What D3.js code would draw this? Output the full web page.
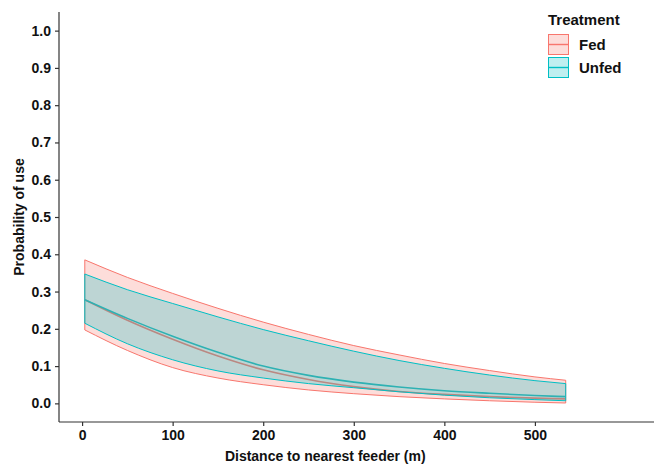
<!DOCTYPE html>
<html>
<head>
<meta charset="utf-8">
<script src="https://cdn.jsdelivr.net/npm/d3@7"></script>
<style>
  body { margin: 0; background: #fff; }
  svg text { font-family: "Liberation Sans", Arial, sans-serif; font-weight: bold; fill: #111; }
</style>
</head>
<body>
<div id="chart"></div>
<script>
const W = 654, H = 465

// distances (m) where the fitted curves were read
const distance = [3, 50, 100, 150, 200, 250, 300, 350, 400, 450, 500, 534]

const fedMean  = [0.278, 0.223, 0.172, 0.127, 0.090, 0.064, 0.045, 0.032, 0.024, 0.018, 0.014, 0.012]
const fedLow   = [0.197, 0.142, 0.096, 0.068, 0.050, 0.036, 0.026, 0.018, 0.012, 0.007, 0.003, 0.001]
const fedHigh  = [0.385, 0.338, 0.295, 0.255, 0.218, 0.185, 0.155, 0.130, 0.107, 0.088, 0.071, 0.062]

const unfedMean = [0.278, 0.228, 0.180, 0.137, 0.100, 0.075, 0.057, 0.044, 0.034, 0.027, 0.021, 0.018]
const unfedLow  = [0.215, 0.160, 0.117, 0.087, 0.068, 0.053, 0.042, 0.031, 0.022, 0.015, 0.010, 0.007]
const unfedHigh = [0.347, 0.305, 0.268, 0.232, 0.198, 0.168, 0.140, 0.115, 0.094, 0.076, 0.061, 0.053]

const groups = ["Fed", "Unfed"]
const xTicks = [0, 100, 200, 300, 400, 500]
const yTicks = [0, 0.1, 0.2, 0.3, 0.4, 0.5, 0.6, 0.7, 0.8, 0.9, 1.0]

const colour = d3.scaleOrdinal().domain(groups).range(["#F8766D", "#00BFC4"])

const margin = {top: 12, right: 0, bottom: 43, left: 59}

const svg = d3.select("#chart").append("svg")
    .attr("width", W)
    .attr("height", H)

// panel: 0..534 with ggplot style 5% expansion
const xScale = d3.scaleLinear().domain([-23.6, 560.6]).range([margin.left + 1.7, 589.8])
const yScale = d3.scaleLinear().domain([-0.05, 1.05]).range([H - margin.bottom, margin.top])

const series = [
  {name: "Fed", mean: fedMean, low: fedLow, high: fedHigh},
  {name: "Unfed", mean: unfedMean, low: unfedLow, high: unfedHigh}
].map(s => ({
  name: s.name,
  pts: distance.map((d, i) => ({x: d, m: s.mean[i], lo: s.low[i], hi: s.high[i]}))
}))

const line = d3.line().curve(d3.curveMonotoneX).x(d => xScale(d.x)).y(d => yScale(d.m))
const area = d3.area().curve(d3.curveMonotoneX).x(d => xScale(d.x)).y0(d => yScale(d.lo)).y1(d => yScale(d.hi))

// mean lines first, ribbons laid over them
svg.append("g").selectAll("path")
    .data(series)
    .join("path")
    .attr("d", d => line(d.pts))
    .attr("fill", "none")
    .attr("stroke", d => colour(d.name))
    .attr("stroke-width", 1.6)

svg.append("g").selectAll("path")
    .data(series)
    .join("path")
    .attr("d", d => area(d.pts) + "Z")
    .attr("fill", d => colour(d.name))
    .attr("fill-opacity", 0.25)
    .attr("stroke", d => colour(d.name))
    .attr("stroke-width", 1)

// axes
const xAxis = d3.axisBottom(xScale).tickValues(xTicks).tickSize(4).tickPadding(4).tickFormat(d3.format("d"))
const yAxis = d3.axisLeft(yScale).tickValues(yTicks).tickSize(4).tickPadding(4).tickFormat(d3.format(".1f"))

const gx = svg.append("g")
    .attr("transform", `translate(0,${H - margin.bottom})`)
    .call(xAxis)
gx.select(".domain").attr("d", `M${margin.left},0H${W}`)

const gy = svg.append("g")
    .attr("transform", `translate(${margin.left},0)`)
    .call(yAxis)
gy.select(".domain").attr("d", `M0,${margin.top}V${H - margin.bottom}`)

svg.selectAll(".domain").attr("stroke", "#333").attr("stroke-width", 1.2)
svg.selectAll(".tick line").attr("stroke", "#333").attr("stroke-width", 1.2)
svg.selectAll(".tick text")
    .attr("font-size", 14)
    .attr("font-family", "Liberation Sans, Arial, sans-serif")
    .attr("font-weight", "bold")
    .attr("fill", "#111")

svg.append("text")
    .attr("x", (xScale.range()[0] + xScale.range()[1]) / 2)
    .attr("y", 461)
    .attr("text-anchor", "middle")
    .attr("font-size", 14)
    .text("Distance to nearest feeder (m)")

svg.append("text")
    .attr("transform", `translate(24,${(yScale.range()[0] + yScale.range()[1]) / 2}) rotate(-90)`)
    .attr("text-anchor", "middle")
    .attr("font-size", 14)
    .text("Probability of use")

// legend
const legend = svg.append("g").attr("transform", "translate(548,13)")
legend.append("text")
    .attr("x", 0)
    .attr("y", 12)
    .attr("font-size", 15)
    .text("Treatment")

const keys = legend.selectAll("g.key")
    .data(groups)
    .join("g")
    .attr("class", "key")
    .attr("transform", (d, i) => `translate(0,${21 + i * 23})`)

keys.append("rect")
    .attr("x", 0.5)
    .attr("y", 0.5)
    .attr("width", 20)
    .attr("height", 20)
    .attr("fill", d => colour(d))
    .attr("fill-opacity", 0.25)
    .attr("stroke", d => colour(d))
keys.append("line")
    .attr("x1", 0.5).attr("x2", 20.5)
    .attr("y1", 10.5).attr("y2", 10.5)
    .attr("stroke", d => colour(d))
    .attr("stroke-width", 1.4)
keys.append("text")
    .attr("x", 31)
    .attr("y", 16)
    .attr("font-size", 15)
    .text(d => d)
</script>
</body>
</html>
